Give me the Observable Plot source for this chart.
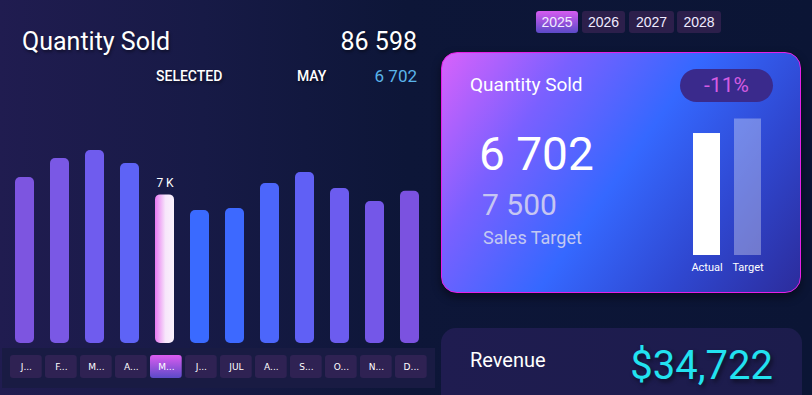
<!DOCTYPE html>
<html>
<head>
<meta charset="utf-8">
<script src="https://cdn.jsdelivr.net/npm/d3@7"></script>
<script src="https://cdn.jsdelivr.net/npm/@observablehq/plot@0.6"></script>
<style>
  html, body { margin: 0; padding: 0; }
  body {
    width: 812px; height: 395px; overflow: hidden; position: relative;
    background: linear-gradient(90deg, #201c50 0%, #171a46 25%, #0d1638 50%, #0b1535 100%);
    font-family: Roboto, "Noto Sans", sans-serif; color: #fff;
  }
  .abs { position: absolute; white-space: nowrap; }
  .shadow { text-shadow: 1px 2px 3px rgba(0,0,0,0.45); }
  #title { left: 22px; top: 27px; font-size: 25px; }
  #total { right: 395px; top: 27px; font-size: 25px; }
  #selLbl { left: 156px; top: 68px; font-size: 14px; font-weight: 500; }
  #selMonth { left: 297px; top: 68px; font-size: 14px; font-weight: 500; }
  #selVal { right: 395px; top: 66px; font-size: 17px; color: #5ab4ea; }
  #bars { left: 0; top: 140px; }
  #monthRow { left: 2px; top: 348px; background: #191b43; }
  .yr { position: absolute; top: 11px; height: 22px; line-height: 22px; text-align: center;
        font-family: "Liberation Sans", Arial, sans-serif; font-size: 14px; color: #f0ecff;
        background: #2c1f4b; border-radius: 3px; }
  .yr.sel { background: linear-gradient(180deg, #d65bf0 0%, #5b4ac8 100%); }
  #card { left: 441px; top: 52px; width: 358px; height: 239px; border: 1.5px solid #e61fe6; border-radius: 16px;
          background: linear-gradient(125deg, #d862fb 0%, #7a60ff 25%, #3568ff 50%, #2f47d0 75%, #2c2c9c 100%);
          box-shadow: 0 4px 10px rgba(0,0,0,0.45); }
  #cardTitle { left: 470px; top: 73px; font-size: 19px; }
  #pill { left: 680px; top: 69px; width: 93px; height: 33px; border-radius: 17px; background: #3a2a8c;
          text-align: center; line-height: 33px; font-size: 21px; color: #d35ce2; }
  #actual { left: 479px; top: 127px; font-size: 46px; }
  #target { left: 482px; top: 187px; font-size: 30px; color: #c6c6f2; }
  #targetLbl { left: 483px; top: 227px; font-size: 18px; color: #c2c8f2; }
  #mini { left: 680px; top: 105px; }
  #rev { left: 441px; top: 328px; width: 361px; height: 120px; border-radius: 15px;
         background: linear-gradient(90deg, #1f1c50, #1c1c4c); }
  #revLbl { left: 470px; top: 348px; font-size: 20px; }
  #revVal { right: 39px; top: 342px; font-size: 40px; color: #22e2f0; text-shadow: 2px 3px 4px rgba(0,0,0,0.5); }
</style>
</head>
<body>
<script>
// ---------- data ----------
const months = ["JAN","FEB","MAR","APR","MAY","JUN","JUL","AUG","SEP","OCT","NOV","DEC"];
const monthLabels = ["J...","F...","M...","A...","M...","J...","JUL","A...","S...","O...","N...","D..."];
const quantity = [7483, 8340, 8700, 8114, 6702, 5996, 6086, 7213, 7709, 6987, 6401, 6867];
const selectedMonth = "MAY";
const years = ["2025","2026","2027","2028"];
const selectedYear = "2025";
const kpiLabels = ["Actual","Target"];
const salesTarget = 7500;
const revenue = 34722;

// ---------- derived ----------
const rows = months.map((m, i) => ({month: m, label: monthLabels[i], value: quantity[i]}));
const selRow = rows.find(r => r.month === selectedMonth);
const total = d3.sum(quantity);
const spaceFmt = v => d3.format(",")(v).replace(/,/g, " ");
const kpi = [{k: kpiLabels[0], v: selRow.value}, {k: kpiLabels[1], v: salesTarget}];
const change = (selRow.value - salesTarget) / salesTarget;

// palette (style)
const barPalette = ["#7d55e0","#7a58e5","#6f5cee","#5e63f6","url(#selGrad)","#3a6aff","#3d69ff","#4c66fb","#6060f5","#6c5cef","#7457e8","#7b52e0"];

function el(id, text, cls) {
  const d = document.createElement("div");
  d.id = id; d.className = "abs " + (cls || ""); d.textContent = text;
  document.body.appendChild(d); return d;
}

el("title", "Quantity Sold", "shadow");
el("total", spaceFmt(total), "shadow");
el("selLbl", "SELECTED", "shadow");
el("selMonth", selectedMonth, "shadow");
el("selVal", spaceFmt(selRow.value));

// main bars
const bars = Plot.plot({
  width: 435, height: 205,
  marginLeft: 15, marginRight: 16, marginTop: 3, marginBottom: 2,
  x: {domain: months, paddingInner: 16/35, paddingOuter: 0, axis: null},
  y: {domain: [0, 9020], axis: null},
  color: {domain: months, range: barPalette},
  style: {background: "transparent", overflow: "visible"},
  marks: [
    Plot.barY(rows, {x: "month", y: "value", fill: "month", rx: 5}),
    Plot.text(rows.filter(r => r.month === selectedMonth), {
      x: "month", y: "value", text: d => Math.round(d.value / 1000) + " K",
      dy: -12, fill: "white", fontSize: 12, fontFamily: "Roboto, sans-serif"
    })
  ]
});
bars.id = "bars"; bars.classList.add("abs");
bars.insertAdjacentHTML("afterbegin",
  `<defs><linearGradient id="selGrad" x1="0" x2="1" y1="0" y2="0">
     <stop offset="0" stop-color="#e878f0"/><stop offset="0.55" stop-color="#f7e6fb"/><stop offset="1" stop-color="#fbf2fd"/>
   </linearGradient>
   <linearGradient id="btnGrad" x1="0" x2="0" y1="0" y2="1">
     <stop offset="0" stop-color="#dc5cf0"/><stop offset="1" stop-color="#5b4ac8"/>
   </linearGradient></defs>`);
document.body.appendChild(bars);

// month buttons row
const monthRow = Plot.plot({
  width: 433, height: 40,
  marginLeft: 8, marginRight: 8.3, marginTop: 7, marginBottom: 10,
  x: {domain: months, paddingInner: 0.094, paddingOuter: 0, round: false, axis: null},
  style: {background: "#191b43"},
  marks: [
    Plot.cell(rows, {x: "month", fill: d => d.month === selectedMonth ? "url(#btnGrad)" : "#2f2253", rx: 3}),
    Plot.text(rows, {x: "month", text: "label", fill: "white", fontSize: 9, fontFamily: "DejaVu Sans, sans-serif"})
  ]
});
monthRow.id = "monthRow"; monthRow.classList.add("abs");
document.body.appendChild(monthRow);

// year buttons
const yrPos = [[536, 42], [582, 43], [629, 45], [677, 44]];
years.forEach((y, i) => {
  const d = document.createElement("div");
  d.className = "yr" + (y === selectedYear ? " sel" : "");
  d.style.left = yrPos[i][0] + "px"; d.style.width = yrPos[i][1] + "px";
  d.textContent = y; document.body.appendChild(d);
});

// KPI card
el("card", "");
el("cardTitle", "Quantity Sold");
el("pill", d3.format(".0%")(change).replace("−", "-"));
el("actual", spaceFmt(selRow.value));
el("target", spaceFmt(salesTarget));
el("targetLbl", "Sales Target");

const mini = Plot.plot({
  width: 95, height: 177,
  marginLeft: 13, marginRight: 14, marginTop: 4.4, marginBottom: 27,
  x: {domain: kpiLabels, paddingInner: 14/41, paddingOuter: 0, tickSize: 0, tickPadding: 8, label: null},
  y: {domain: [0, 8000], axis: null},
  style: {background: "transparent", color: "white", fontSize: "11px", fontFamily: "Roboto, sans-serif"},
  marks: [
    Plot.barY(kpi, {x: "k", y: "v", fill: "white", fillOpacity: d => d.k === kpiLabels[0] ? 1 : 0.32})
  ]
});
mini.id = "mini"; mini.classList.add("abs");
document.body.appendChild(mini);

// revenue card
el("rev", "");
el("revLbl", "Revenue");
el("revVal", d3.format("$,")(revenue));
</script>
</body>
</html>
